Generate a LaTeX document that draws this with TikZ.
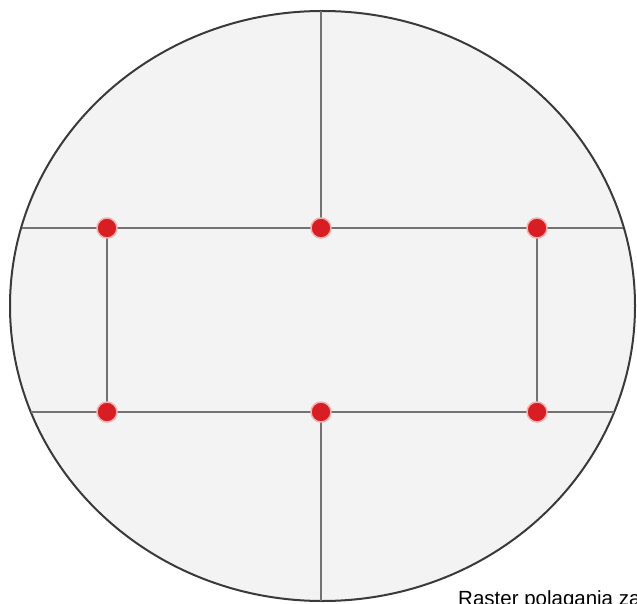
\documentclass[tikz,border=0pt]{standalone}
\usepackage{fontspec}
\setmainfont{Liberation Sans}
\usepackage{tikz}
\usetikzlibrary{positioning}
\definecolor{dotred}{HTML}{D81E22}
\definecolor{rimgray}{HTML}{3A3A3A}
\definecolor{linegray}{HTML}{727272}
\definecolor{platebg}{HTML}{F3F3F3}
\tikzset{
  pin/.style={circle,fill=dotred,draw=dotred!35,line width=1.5pt,minimum size=20pt,inner sep=0pt},
  rasterln/.style={linegray,line width=1.4pt}
}
\begin{document}
\begin{tikzpicture}[x=1pt,y=-1pt]
\useasboundingbox (0,0) rectangle (637,604);
\clip (0,0) rectangle (637,604);
\coordinate (c) at (322.5,306);
\filldraw[fill=platebg,draw=rimgray,line width=2pt] (c) ellipse [x radius=312.5,y radius=295];
% ends of the lines on the rim
\coordinate (rimtop) at (321,11);
\coordinate (rimbot) at (321,601);
\coordinate (rimul) at (22,228);
\coordinate (rimur) at (623,228);
\coordinate (rimll) at (31,412);
\coordinate (rimlr) at (614,412);
% raster points
\coordinate (p1) at (107,228);
\coordinate (p2) at (321,228);
\coordinate (p3) at (537,228);
\coordinate (p4) at (107,412);
\coordinate (p5) at (321,412);
\coordinate (p6) at (537,412);
\draw[rasterln] (rimul)--(rimur);
\draw[rasterln] (rimll)--(rimlr);
\draw[rasterln] (rimtop)--(p2);
\draw[rasterln] (p5)--(rimbot);
\draw[rasterln] (p1)--(p4);
\draw[rasterln] (p3)--(p6);
\node[pin] (d1) at (p1) {};
\node[pin] (d2) at (p2) {};
\node[pin] (d3) at (p3) {};
\node[pin] (d4) at (p4) {};
\node[pin] (d5) at (p5) {};
\node[pin] (d6) at (p6) {};
\node[anchor=base west,inner sep=0pt,font=\fontsize{20.5}{24}\selectfont] (caption) at (458,605) {Raster polagania za};
\end{tikzpicture}
\end{document}
